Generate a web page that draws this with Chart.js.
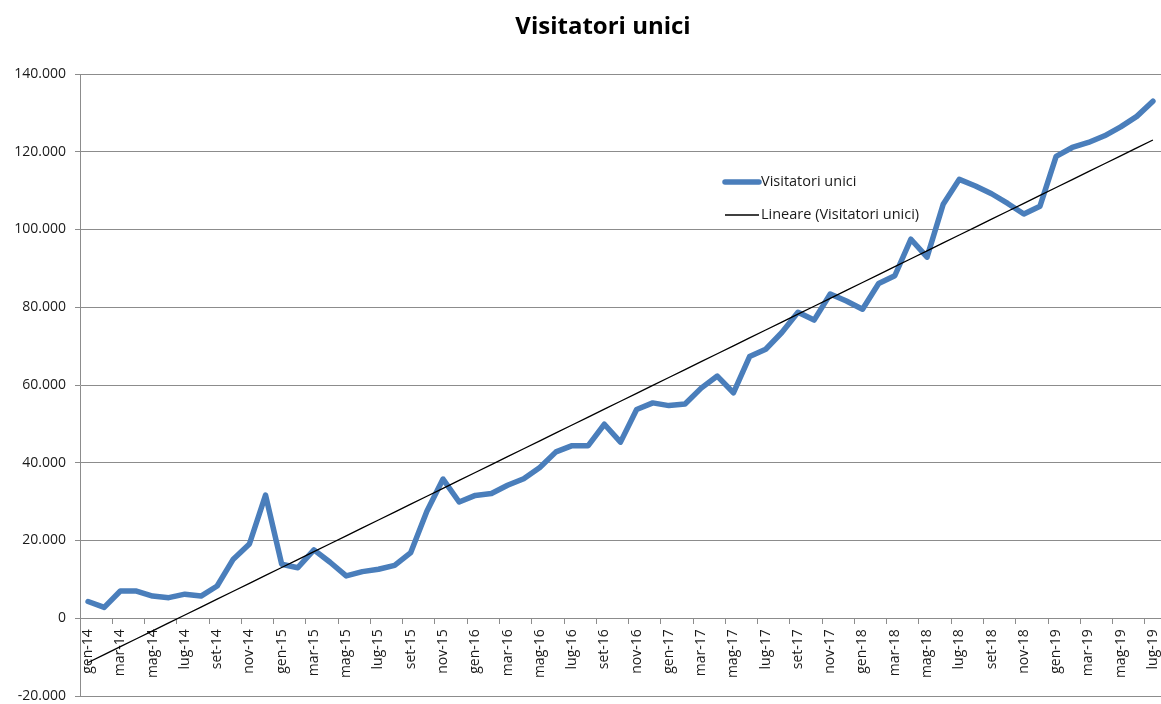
<!DOCTYPE html>
<html>
<head>
<meta charset="utf-8">
<script src="https://cdn.jsdelivr.net/npm/chart.js@4/dist/chart.umd.min.js"></script>
<style>
  html, body { margin: 0; padding: 0; background: #ffffff; }
  #wrap { width: 1161px; height: 704px; }
</style>
</head>
<body>
<div id="wrap"><canvas id="c" width="1161" height="704"></canvas></div>
<script>
// ---- data ----
const months = ['gen','feb','mar','apr','mag','giu','lug','ago','set','ott','nov','dic'];
const years = ['14','15','16','17','18','19'];
const categories = [];
for (const y of years) for (const m of months) categories.push(m + '-' + y);
categories.length = 67; // gen-14 .. lug-19

const visitatori = [
  4300, 2800, 7000, 7000, 5700, 5300, 6200, 5700, 8300, 15200, 19100, 31700,
  13900, 13000, 17600, 14400, 10900, 12000, 12600, 13600, 16900, 27500, 35800, 29900,
  31600, 32100, 34200, 35900, 38800, 42800, 44400, 44400, 49900, 45300, 53700, 55400,
  54700, 55100, 59200, 62300, 58000, 67300, 69200, 73500, 78700, 76700, 83400, 81600,
  79500, 86100, 88100, 97500, 92900, 106500, 112900, 111200, 109200, 106700, 104000, 106000,
  118800, 121100, 122400, 124100, 126400, 129100, 133000
];

const yTicks = [-20000, 0, 20000, 40000, 60000, 80000, 100000, 120000, 140000];

const chartTitle = 'Visitatori unici';
const seriesLabel = 'Visitatori unici';
const trendLabel = 'Lineare (Visitatori unici)';

// linear least-squares trend of the series
function linearTrend(vals) {
  const n = vals.length;
  let sx = 0, sy = 0, sxx = 0, sxy = 0;
  vals.forEach((v, i) => { sx += i; sy += v; sxx += i * i; sxy += i * v; });
  const b = (n * sxy - sx * sy) / (n * sxx - sx * sx);
  const a = (sy - b * sx) / n;
  return vals.map((_, i) => a + b * i);
}
const trend = linearTrend(visitatori);

function fmt(v) {
  const s = Math.round(Math.abs(v)).toString().replace(/\B(?=(\d{3})+(?!\d))/g, '.');
  return (v < 0 ? '-' : '') + s;
}

const FONT = '"Open Sans", "Liberation Sans", sans-serif';
const GRID = '#8c8c8c';
const TEXT = '#1a1a1a';

const overlayPlugin = {
  id: 'overlay',
  afterDraw(chart) {
    const ctx = chart.ctx;
    ctx.save();
    // title
    ctx.font = 'bold 24px ' + FONT;
    ctx.fillStyle = '#000000';
    ctx.textAlign = 'center';
    ctx.textBaseline = 'middle';
    ctx.fillText(chartTitle, 603, 27);
    // legend
    const items = chart.data.datasets;
    const x0 = 725, x1 = 759, ys = [182, 215];
    ctx.font = '14.5px ' + FONT;
    ctx.fillStyle = TEXT;
    ctx.textAlign = 'left';
    items.forEach((ds, i) => {
      ctx.beginPath();
      ctx.strokeStyle = ds.borderColor;
      ctx.lineWidth = ds.borderWidth;
      ctx.lineCap = i === 0 ? 'round' : 'butt';
      ctx.moveTo(x0, ys[i]);
      ctx.lineTo(x1, ys[i]);
      ctx.stroke();
      ctx.fillText(ds.label, x1 + 2, ys[i]);
    });
    ctx.restore();
  }
};

new Chart(document.getElementById('c'), {
  type: 'line',
  data: {
    labels: categories,
    datasets: [
      {
        label: seriesLabel,
        data: visitatori,
        borderColor: '#4a7ebb',
        backgroundColor: '#4a7ebb',
        borderWidth: 5.5,
        pointRadius: 0,
        tension: 0,
        borderJoinStyle: 'round',
        borderCapStyle: 'round',
        order: 2
      },
      {
        label: trendLabel,
        data: trend,
        borderColor: '#000000',
        backgroundColor: '#000000',
        borderWidth: 1.3,
        pointRadius: 0,
        tension: 0,
        order: 1
      }
    ]
  },
  options: {
    responsive: false,
    animation: false,
    events: [],
    layout: { padding: { top: 74, left: 0, right: -1, bottom: 8 } },
    plugins: {
      legend: { display: false },
      tooltip: { enabled: false },
      title: { display: false }
    },
    scales: {
      x: {
        type: 'category',
        position: { y: 0 },
        offset: true,
        afterFit: (s) => { s.paddingLeft = 0; s.paddingRight = 0; s.paddingTop = 0; s.paddingBottom = 0; },
        grid: {
          offset: true,
          drawOnChartArea: false,
          drawTicks: true,
          tickLength: 5,
          color: (c) => (c.index % 2 === 0 ? GRID : 'rgba(0,0,0,0)'),
          lineWidth: 1
        },
        border: { display: true, color: GRID, width: 1 },
        ticks: {
          autoSkip: false,
          minRotation: 90,
          maxRotation: 90,
          padding: 6,
          color: TEXT,
          font: { family: FONT, size: 14 },
          callback: function (val, idx) { return idx % 2 === 0 ? this.getLabelForValue(val) : ''; }
        }
      },
      y: {
        min: -20000,
        max: 140000,
        afterBuildTicks: (s) => { s.ticks = yTicks.map(v => ({ value: v })); },
        afterFit: (s) => { s.width = 80; s.paddingTop = 0; s.paddingBottom = 0; },
        grid: { color: GRID, lineWidth: 1, tickLength: 5, drawTicks: true },
        border: { display: true, color: GRID, width: 1 },
        ticks: {
          padding: 9,
          color: TEXT,
          font: { family: FONT, size: 14 },
          callback: (v) => fmt(v)
        }
      }
    }
  },
  plugins: [overlayPlugin]
});
</script>
</body>
</html>
